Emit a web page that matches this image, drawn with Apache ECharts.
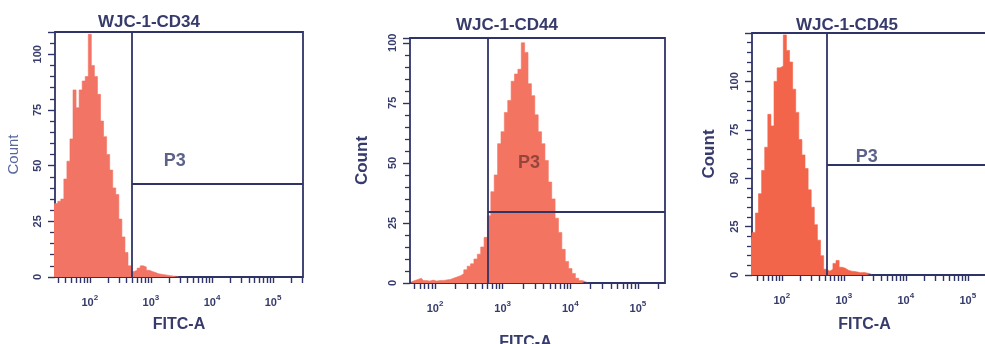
<!DOCTYPE html>
<html><head><meta charset="utf-8">
<script src="https://cdn.jsdelivr.net/npm/echarts@6/dist/echarts.min.js"></script>
<style>html,body{margin:0;padding:0;background:#fff}#c{width:985px;height:344px}</style>
</head><body><div id="c"></div>
<script>
const titles = ['WJC-1-CD34', 'WJC-1-CD44', 'WJC-1-CD45'];
const gateName = 'P3';
const xName = 'FITC-A';
const yName = 'Count';
const binStep = 0.05;               // log10 bin width
const binStart = [1.40, 1.65, 1.50]; // log10 of first bin centre
const countsCD34 = [32, 33, 34, 35, 44, 52, 62, 84, 76, 84, 88, 90, 109, 95, 90, 82, 70, 63, 55, 48, 40, 37, 26, 18, 11, 5, 2.5, 3, 4, 5, 4.5, 3, 2.5, 2, 1.5, 1.2, 1, 0.8, 0.6, 0.4, 0.3, 0.2];
const countsCD44 = [0.5, 1, 1.5, 2, 1, 0.8, 1.2, 0.8, 1, 1, 1.3, 1.5, 2, 2.5, 3, 3.8, 5.5, 7, 8, 10, 12, 15, 19, 28, 38, 45, 58, 63, 71, 76, 84, 87, 89, 100, 96, 83, 78, 70, 63, 58, 51, 42, 35, 27, 21, 14, 9, 6, 4, 2, 1, 0.6, 0.3];
const countsCD45 = [17, 22, 32, 42, 54, 66, 83, 77, 100, 107, 108, 124, 116, 110, 96, 84, 70, 62, 55, 44, 35, 26, 18, 10, 3, 2, 3, 6, 7.5, 4, 3.5, 2.5, 2, 1.8, 1.5, 1.2, 1.3, 1, 0.7, 0.4];
const decadeExponents = [2, 3, 4, 5];
const yTicks = [0, 25, 50, 75, 100];
const gateX = [2.69, 2.78, 2.73];   // log10 position of vertical gate
const gateY = [42, 29.6, 57];       // count level of P3 marker line
const p3Pos = [[3.39, 52], [3.39, 50], [3.37, 61]];
const xMin = [1.43, 1.63, 1.52];
const xMax = [5.49, 5.40, 5.60];
const yMax = [110, 102, 125];

const allCounts = [countsCD34, countsCD44, countsCD45];
const navy = '#2f3466';
const txt = '#363b6b';
const fills = ['#f17464', '#f47462', '#f2654a'];
const grids = [
  {left: 55, width: 248, top: 32, bottom: 67},
  {left: 410, width: 255, top: 38, bottom: 61},
  {left: 752, width: 253, top: 33, bottom: 69}
];
const titleX = [144, 502, 842];
const titleTop = [10, 13, 13];
const countStyle = [
  {fontSize: 15, fontWeight: 'normal', color: '#5866a0', gap: 34},
  {fontSize: 17, fontWeight: 'bold', color: txt, gap: 39},
  {fontSize: 17, fontWeight: 'bold', color: txt, gap: 34}
];
const fitcPad = [[0, 0, 0, 0], [0, 24, 0, 0], [0, 28, 0, 0]];
const fitcGap = [40, 52, 42];

// minor (log) tick positions
const tickVals = [];
for (let d = 1; d <= 5; d++) for (let k = 1; k <= 9; k++) tickVals.push(Math.log10(k * Math.pow(10, d)));

const option = {
  backgroundColor: '#fff',
  animation: false,
  title: titles.map((t, i) => ({
    text: t, left: titleX[i], top: titleTop[i] - 1, textAlign: 'center',
    textStyle: {fontSize: 17, fontWeight: 'bold', color: txt, fontFamily: 'Liberation Sans'}
  })),
  grid: grids.map(g => Object.assign({show: true, borderColor: navy, borderWidth: 1.8, backgroundColor: 'transparent', containLabel: false, outerBoundsMode: 'none'}, g)),
  xAxis: grids.map((g, i) => ({
    type: 'value', gridIndex: i, min: xMin[i], max: xMax[i],
    name: xName, nameLocation: 'middle', nameGap: fitcGap[i],
    nameTextStyle: {fontSize: 16, fontWeight: 'bold', color: txt, padding: fitcPad[i], fontFamily: 'Liberation Sans'},
    axisLine: {show: false},
    splitLine: {show: false},
    axisTick: {show: true, inside: false, length: 6, lineStyle: {color: navy, width: 1.4}, customValues: tickVals.filter(v => v >= xMin[i] && v <= xMax[i])},
    axisLabel: {
      customValues: decadeExponents, margin: 17, color: txt,
      formatter: v => '{b|10}{s|' + v + '}',
      rich: {
        b: {fontSize: 11, fontWeight: 'bold', color: txt, fontFamily: 'Liberation Sans', verticalAlign: 'bottom', lineHeight: 14},
        s: {fontSize: 8, fontWeight: 'bold', color: txt, fontFamily: 'Liberation Sans', verticalAlign: 'top', lineHeight: 14}
      }
    }
  })),
  yAxis: grids.map((g, i) => ({
    type: 'value', gridIndex: i, min: 0, max: yMax[i], interval: 25,
    name: yName, nameLocation: 'middle', nameGap: countStyle[i].gap, nameRotate: 90,
    nameTextStyle: {fontSize: countStyle[i].fontSize, fontWeight: countStyle[i].fontWeight, color: countStyle[i].color, fontFamily: 'Liberation Sans'},
    axisLine: {show: false},
    splitLine: {show: false},
    axisTick: {show: true, length: 7, lineStyle: {color: navy, width: 1.4}},
    minorTick: {show: true, splitNumber: 5, length: 5, lineStyle: {color: navy, width: 1.3}},
    axisLabel: {
      rotate: 90, margin: 12, fontSize: 11, fontWeight: 'bold', color: txt, fontFamily: 'Liberation Sans',
      customValues: yTicks.filter(v => v <= yMax[i])
    }
  })),
  series: []
};

allCounts.forEach((counts, i) => {
  option.series.push({
    type: 'line', xAxisIndex: i, yAxisIndex: i, step: 'middle', symbol: 'none',
    lineStyle: {width: 0.6, color: fills[i]},
    areaStyle: {color: fills[i], opacity: 1},
    data: counts.map((c, j) => [binStart[i] + j * binStep, c]),
    markLine: {
      silent: true, symbol: 'none', label: {show: false},
      lineStyle: {color: navy, width: 1.8, type: 'solid'},
      data: [
        [{coord: [gateX[i], 0]}, {coord: [gateX[i], yMax[i]]}],
        [{coord: [gateX[i], gateY[i]]}, {coord: [xMax[i], gateY[i]]}]
      ]
    },
    z: 2
  });
  option.series.push({
    type: 'scatter', xAxisIndex: i, yAxisIndex: i, symbolSize: 0, silent: true,
    data: [p3Pos[i]],
    label: {show: true, position: 'inside', formatter: gateName, fontSize: 18, fontWeight: 'bold',
      color: i === 1 ? '#7d3a36' : txt, fontFamily: 'Liberation Sans'},
    z: 5
  });
});

const chart = echarts.init(document.getElementById('c'), null, {renderer: 'canvas'});
chart.setOption(option);
</script>
</body></html>
